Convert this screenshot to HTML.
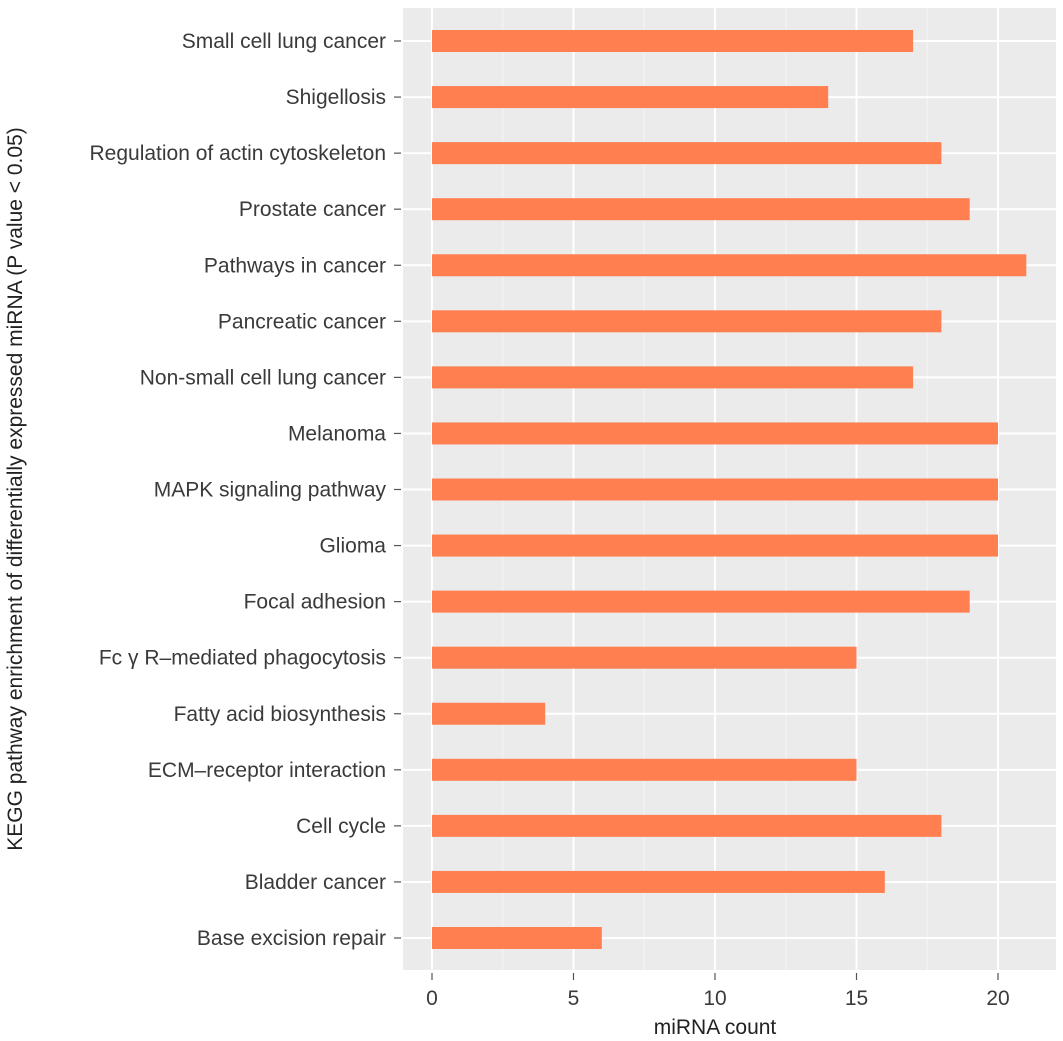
<!DOCTYPE html>
<html><head><meta charset="utf-8"><style>
html,body{margin:0;padding:0;background:#fff;}
svg{display:block;font-family:"Liberation Sans",Arial,sans-serif;}
</style></head><body>
<svg id="chart" width="1063" height="1041"></svg>
<script>
const categories=["Small cell lung cancer","Shigellosis","Regulation of actin cytoskeleton","Prostate cancer","Pathways in cancer","Pancreatic cancer","Non-small cell lung cancer","Melanoma","MAPK signaling pathway","Glioma","Focal adhesion","Fc \u03B3 R\u2013mediated phagocytosis","Fatty acid biosynthesis","ECM\u2013receptor interaction","Cell cycle","Bladder cancer","Base excision repair"];
const counts=[17,14,18,19,21,18,17,20,20,20,19,15,4,15,18,16,6];
const xTicks=[0,5,10,15,20];
const xMinor=[2.5,7.5,12.5,17.5];

const NS="http://www.w3.org/2000/svg";
const svg=document.getElementById('chart');
const P={l:403,r:1056,t:8,b:970};
const x=v=>432+v*28.3;
const rowTop=41, rowStep=(938-41)/(categories.length-1);
const y=i=>rowTop+i*rowStep;
function el(tag,attrs,parent){const e=document.createElementNS(NS,tag);for(const k in attrs)e.setAttribute(k,attrs[k]);(parent||svg).appendChild(e);return e;}

const panel=el('rect',{x:P.l,y:P.t,width:P.r-P.l,height:P.b-P.t,fill:'#ebebeb'});


xMinor.forEach(v=>{const g=el('line',{x1:x(v),x2:x(v),y1:P.t,y2:P.b,stroke:'#f5f5f5','stroke-width':1});

});
xTicks.forEach(v=>{const g=el('line',{x1:x(v),x2:x(v),y1:P.t,y2:P.b,stroke:'#fff','stroke-width':2});

});
categories.forEach((c,i)=>{const g=el('line',{x1:P.l,x2:P.r,y1:y(i),y2:y(i),stroke:'#fff','stroke-width':2});

});
categories.forEach((c,i)=>{
const b=el('rect',{x:x(0),y:y(i)-11,width:x(counts[i])-x(0),height:22,fill:'#ff7f50'});


const t=el('line',{x1:394,x2:401,y1:y(i),y2:y(i),stroke:'#555','stroke-width':1.2});


const l=el('text',{x:386,y:y(i)+7,'text-anchor':'end','font-size':21,fill:'#3a3a3a'});
l.textContent=c;


});
xTicks.forEach(v=>{
const t=el('line',{x1:x(v),x2:x(v),y1:973,y2:980,stroke:'#555','stroke-width':1.2});


const l=el('text',{x:x(v),y:1005,'text-anchor':'middle','font-size':21,fill:'#3a3a3a'});
l.textContent=v;


});
const xt=el('text',{x:715,y:1034,'text-anchor':'middle','font-size':21,fill:'#222'});
xt.textContent='miRNA count';


const yt=el('text',{x:0,y:0,'text-anchor':'middle','font-size':21,fill:'#222',transform:'translate(22,489) rotate(-90)'});
yt.textContent='KEGG pathway enrichment of differentially expressed miRNA (P value < 0.05)';


</script>
</body></html>
